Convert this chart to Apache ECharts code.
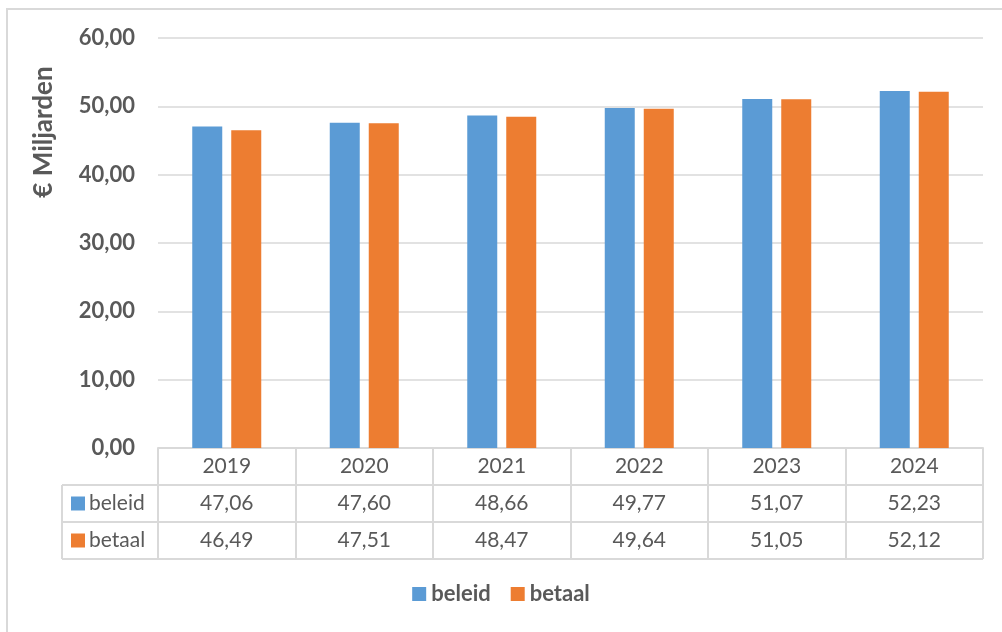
<!DOCTYPE html>
<html>
<head>
<meta charset="utf-8">
<script src="https://cdn.jsdelivr.net/npm/echarts@6/dist/echarts.min.js"></script>
<style>
  html, body { margin: 0; padding: 0; background: #fff; }
  #chart { width: 1002px; height: 632px; }
</style>
</head>
<body>
<div id="chart"></div>
<script>
// data
const years = ["2019", "2020", "2021", "2022", "2023", "2024"];
const beleid = [47.06, 47.6, 48.66, 49.77, 51.07, 52.23];
const betaal = [46.49, 47.51, 48.47, 49.64, 51.05, 52.12];
const seriesNames = ["beleid", "betaal"];
const colors = ["#5B9BD5", "#ED7D31"];

const FONT = "Lato, 'Liberation Sans', sans-serif";
const TXT = "#595959";
const LINE = "#d9d9d9";

// layout
const plotLeft = 158, plotRight = 983, plotTop = 38, plotBottom = 448;
const rowH = 37;
const tableLeft = 62;

const fmt = (v) => v.toFixed(2).replace(".", ",");

var chart = echarts.init(document.getElementById("chart"));

// tabel-lijnen en rijlabels
const graphic = [
  {
    type: "rect",
    shape: { x: 7, y: 9, width: 1000, height: 630 },
    style: { fill: "none", stroke: LINE, lineWidth: 2 },
    silent: true,
  },
];
[1, 2, 3].forEach((i) => {
  graphic.push({
    type: "line",
    shape: { x1: tableLeft, y1: plotBottom + rowH * i, x2: plotRight, y2: plotBottom + rowH * i },
    style: { stroke: LINE, lineWidth: 2 },
    silent: true,
  });
});
graphic.push({
  type: "line",
  shape: { x1: tableLeft, y1: plotBottom + rowH, x2: tableLeft, y2: plotBottom + rowH * 3 },
  style: { stroke: LINE, lineWidth: 2 },
  silent: true,
});
seriesNames.forEach((n, i) => {
  const cy = plotBottom + rowH * (i + 1) + rowH / 2;
  graphic.push({
    type: "rect",
    shape: { x: 71, y: cy - 7, width: 14, height: 14 },
    style: { fill: colors[i] },
    silent: true,
  });
  graphic.push({
    type: "text",
    x: 89,
    y: cy,
    style: {
      text: n,
      fontSize: 21,
      fontFamily: FONT,
      fill: TXT,
      verticalAlign: "middle",
    },
    silent: true,
  });
});
// as-titel
graphic.push({
  type: "text",
  x: 44,
  y: 132,
  rotation: Math.PI / 2,
  style: {
    text: "€ Miljarden",
    fontSize: 26,
    fontWeight: "bold",
    fontFamily: FONT,
    fill: TXT,
    align: "center",
    verticalAlign: "middle",
  },
  silent: true,
});

chart.setOption({
  animation: false,
  color: colors,
  textStyle: { fontFamily: FONT },
  grid: {
    left: plotLeft,
    right: 1002 - plotRight,
    top: plotTop,
    bottom: 632 - plotBottom,
  },
  legend: {
    data: seriesNames,
    bottom: 22,
    left: "center",
    icon: "rect",
    itemWidth: 14,
    itemHeight: 14,
    itemGap: 20,
    textStyle: { fontSize: 22, fontWeight: "bold", color: TXT, fontFamily: FONT },
  },
  xAxis: {
    type: "category",
    data: years,
    axisLine: { lineStyle: { color: LINE, width: 2 } },
    axisTick: { show: true, length: rowH * 3, lineStyle: { color: LINE, width: 2 } },
    axisLabel: {
      margin: 0,
      interval: 0,
      formatter: (v, idx) => `{a|${v}}\n{a|${fmt(beleid[idx])}}\n{a|${fmt(betaal[idx])}}`,
      rich: {
        a: { fontSize: 21, color: TXT, lineHeight: rowH, fontFamily: FONT, align: "center" },
      },
    },
  },
  yAxis: {
    type: "value",
    min: 0,
    max: 60,
    interval: 10,
    axisLine: { show: false },
    axisTick: { show: false },
    splitLine: { lineStyle: { color: LINE, width: 1.5 } },
    axisLabel: {
      formatter: (v) => fmt(v),
      fontSize: 22,
      fontWeight: "bold",
      color: TXT,
      margin: 23,
      fontFamily: FONT,
    },
  },
  series: [
    {
      name: seriesNames[0],
      type: "bar",
      data: beleid,
      barWidth: 30,
      barGap: "30%",
    },
    {
      name: seriesNames[1],
      type: "bar",
      data: betaal,
      barWidth: 30,
      barGap: "30%",
    },
  ],
  graphic: graphic,
});
</script>
</body>
</html>
